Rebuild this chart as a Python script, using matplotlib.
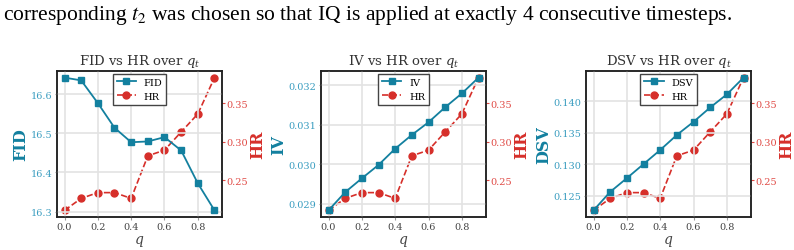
import numpy as np
import matplotlib
matplotlib.use("Agg")
import matplotlib.pyplot as plt

# values
q = [0.0, 0.1, 0.2, 0.3, 0.4, 0.5, 0.6, 0.7, 0.8, 0.9]
hr = [0.211, 0.2265, 0.234, 0.234, 0.2265, 0.2817, 0.289, 0.3126, 0.336, 0.383]
fid = [16.642, 16.635, 16.577, 16.514, 16.477, 16.479, 16.490, 16.456, 16.372, 16.303]
iv = [0.02883, 0.02929, 0.02964, 0.02998, 0.03039, 0.03074, 0.03106, 0.03144, 0.03179, 0.03219]
dsv = [0.12271, 0.12564, 0.12782, 0.13005, 0.13229, 0.13468, 0.13676, 0.13904, 0.14112, 0.14378]

metrics = [("FID", fid), ("IV", iv), ("DSV", dsv)]
lefts = [57, 321, 586]

caption = r"corresponding $t_2$ was chosen so that IQ is applied at exactly 4 consecutive timesteps."

blue = "#13809f"
blue_tick = "#3a9dc0"
red = "#d62f2a"
red_tick = "#e04a45"

plt.rcParams["font.family"] = "DejaVu Serif"
plt.rcParams["mathtext.fontset"] = "dejavuserif"

W, H = 794, 251
fig = plt.figure(figsize=(W / 100, H / 100), dpi=100)

fig.text(3 / W, 1 - 20 / H, caption, fontsize=15.5, family="Liberation Serif",
         math_fontfamily="stix", va="baseline", ha="left")

for (name, vals), left in zip(metrics, lefts):
    ax = fig.add_axes([left / W, 33 / H, 165 / W, 146 / H])
    ax2 = ax.twinx()
    ax.set_zorder(ax2.get_zorder() + 1)
    ax.patch.set_visible(False)

    l1, = ax.plot(q, vals, color=blue, marker="s", markersize=5, lw=1.3, label=name)
    l2, = ax2.plot(q, hr, color=red, marker="o", markersize=5, lw=1.2, ls="--", label="HR")

    ax.grid(True, color="#e3e3e3", lw=1.2)
    ax.set_axisbelow(True)
    ax.set_xticks([0.0, 0.2, 0.4, 0.6, 0.8])
    ax.set_xlabel("$q$", fontsize=10, color="#444444", labelpad=2)
    ax.set_ylabel(name, fontsize=11.5, fontweight="bold", color=blue, labelpad=1)
    ax2.set_ylabel("HR", fontsize=11.5, fontweight="bold", color=red, labelpad=1)
    ax.set_title(name + r" vs HR over $q_t$", fontsize=9.5, color="#333333", pad=5)

    ax.tick_params(axis="y", colors="#999999", labelcolor=blue_tick, labelsize=7,
                   length=1.8, pad=1.5)
    ax.tick_params(axis="x", colors="#999999", labelcolor="#444444", labelsize=7,
                   length=1.8, pad=1.5)
    ax2.tick_params(axis="y", colors=red_tick, labelcolor=red_tick, labelsize=7,
                    length=1.8, pad=1.0)
    ax2.set_yticks([0.25, 0.30, 0.35])

    for sp in list(ax.spines.values()) + list(ax2.spines.values()):
        sp.set_color("#222222")
        sp.set_linewidth(1.1)

    leg = ax.legend([l1, l2], [name, "HR"], loc="upper center", fontsize=7,
                    fancybox=False, edgecolor="#444444", framealpha=1,
                    borderaxespad=0.3, handlelength=2.0)
    leg.get_frame().set_linewidth(1.0)

fig.savefig("out.png", dpi=100)
